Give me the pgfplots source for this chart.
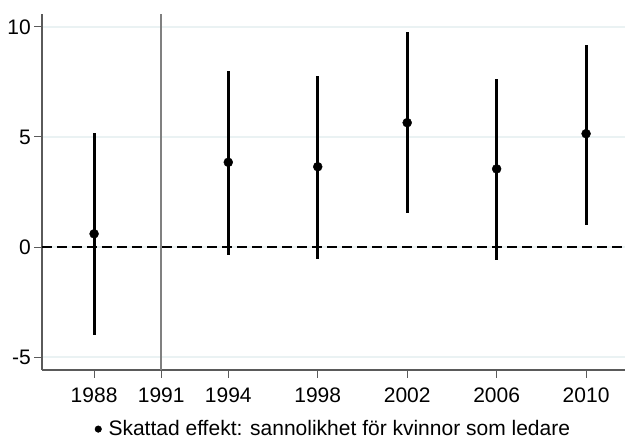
\documentclass[border=0pt]{standalone}
\usepackage{fontspec}
\setmainfont{Liberation Sans}
\usepackage{pgfplots}
\pgfplotsset{compat=1.18}
\definecolor{axgray}{HTML}{5A5A5A}
\definecolor{gridc}{HTML}{EAF2F3}
\definecolor{vgray}{HTML}{808080}
\begin{document}
\begin{tikzpicture}[x=1pt,y=1pt]
\path[use as bounding box] (-42,-71) rectangle (583,370);
\begin{axis}[at={(0,0)}, anchor=south west, scale only axis,
  width=583pt, height=356pt,
  xmin=1985.67, xmax=2011.74, ymin=-5.59, ymax=10.59,
  axis lines*=left,
  axis line style={axgray, line width=1.3pt},
  xtick={1988,1991,1994,1998,2002,2006,2010},
  xticklabels={1988,1991,1994,1998,2002,2006,2010},
  ytick={-5,0,5,10}, yticklabels={-5,0,5,10},
  tick align=outside, major tick length=8pt,
  tick style={axgray, line width=1pt},
  ymajorgrids, grid style={gridc, line width=1.3pt},
  tick label style={font=\fontsize{21}{24}\selectfont, text=black},
  xticklabel style={inner sep=0pt, yshift=-10pt},
  yticklabel style={inner sep=0pt, xshift=-3pt},
  legend style={at={(0.5,-0.166)}, anchor=center, draw=none, fill=none,
    inner sep=0pt, font=\fontsize{21}{24}\selectfont},
  legend image post style={mark size=3.3pt},
]
\addplot[vgray, line width=1.4pt, forget plot] coordinates {(1991,-5.59) (1991,10.59)};
\addplot[black, line width=1.6pt, dash pattern=on 10pt off 5pt, forget plot] coordinates {(1985.67,0) (2011.74,0)};
\addplot[only marks, mark=*, mark size=4.5pt, black,
  error bars/.cd, y dir=both, y explicit, error mark=none,
  error bar style={line width=3pt, black}]
  table[x=x, y=y, y error plus=ep, y error minus=em] {
x y ep em
1988 0.60 4.60 4.60
1994 3.85 4.15 4.20
1998 3.65 4.10 4.20
2002 5.65 4.10 4.10
2006 3.55 4.10 4.15
2010 5.15 4.05 4.15
};
\addlegendentry{\hspace{5pt}Skattad effekt: sannolikhet för kvinnor som ledare}
\end{axis}
\end{tikzpicture}
\end{document}
